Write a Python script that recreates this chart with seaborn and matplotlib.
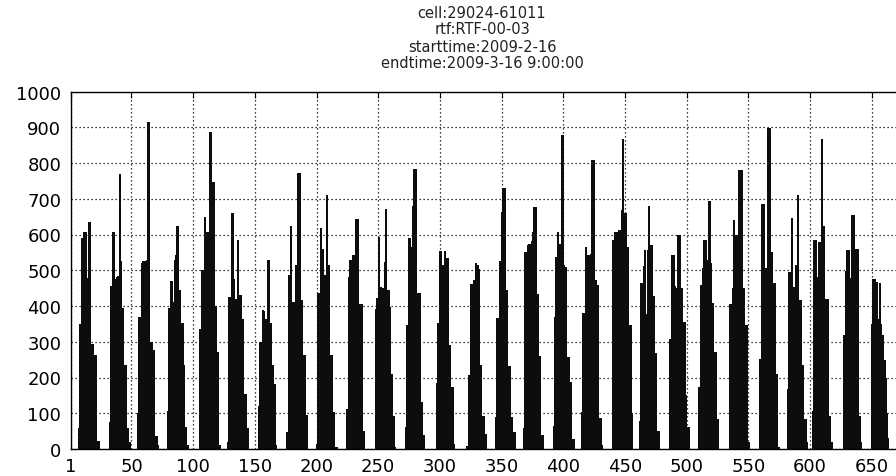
import numpy as np
import pandas as pd
import matplotlib
matplotlib.use("Agg")
import matplotlib.pyplot as plt
import seaborn as sns

# ---------------- data ----------------
title_lines = ["cell:29024-61011", "rtf:RTF-00-03", "starttime:2009-2-16",
               "endtime:2009-3-16 9:00:00"]
n_hours = 681

# hour index where each day's traffic begins
day_start = [7, 32, 55, 79, 105, 128, 153, 176, 200, 224, 248, 272, 297, 322,
             345, 368, 392, 415, 440, 462, 486, 510, 535, 559, 582, 602, 627, 650]

d01 = [58, 350, 350, 589, 607, 607, 607, 477, 634, 634, 294, 294, 264, 264, 264, 23, 23]
d02 = [75, 457, 457, 607, 470, 475, 480, 485, 770, 525, 395, 395, 235, 235, 60, 60, 20]
d03 = [102, 369, 369, 520, 526, 526, 526, 530, 916, 916, 300, 300, 278, 278, 35, 35, 10]
d04 = [105, 394, 394, 469, 411, 411, 528, 542, 623, 446, 446, 353, 353, 234, 61, 61, 10]
d05 = [335, 335, 500, 500, 648, 607, 607, 607, 888, 888, 748, 748, 400, 400, 271, 271, 10]
d06 = [20, 425, 425, 660, 660, 475, 420, 420, 585, 430, 430, 365, 365, 155, 155, 60, 60]
d07 = [120, 299, 299, 388, 386, 364, 364, 528, 528, 353, 353, 235, 182, 182, 10]
d08 = [47, 486, 486, 623, 411, 411, 411, 514, 514, 771, 771, 416, 416, 264, 264, 95, 95]
d09 = [14, 435, 435, 617, 432, 560, 486, 486, 710, 514, 514, 264, 264, 103, 103, 5, 5]
d10 = [112, 112, 481, 528, 528, 544, 542, 542, 643, 643, 405, 405, 405, 49, 49]
d11 = [392, 421, 593, 453, 453, 449, 449, 523, 671, 446, 446, 397, 210, 210, 93, 5]
d12 = [61, 348, 348, 589, 565, 565, 680, 783, 783, 436, 436, 436, 131, 131, 40, 40]
d13 = [185, 353, 353, 554, 516, 516, 416, 554, 533, 533, 290, 290, 173, 173, 14]
d14 = [9, 207, 207, 461, 461, 472, 472, 519, 514, 503, 234, 234, 93, 93, 42, 42]
d15 = [89, 367, 367, 526, 526, 663, 729, 729, 444, 444, 232, 232, 89, 89, 47, 47]
d16 = [60, 551, 551, 572, 573, 573, 581, 607, 676, 676, 433, 433, 260, 260, 39, 39]
d17 = [65, 369, 537, 607, 523, 573, 573, 878, 514, 509, 509, 257, 257, 187, 187, 28, 28]
d18 = [103, 381, 381, 564, 542, 542, 458, 545, 808, 808, 472, 472, 458, 458, 86, 86, 10]
d19 = [584, 584, 607, 607, 607, 612, 612, 668, 866, 659, 659, 565, 565, 347, 347, 98]
d20 = [77, 464, 464, 512, 558, 378, 558, 680, 572, 572, 428, 428, 269, 269, 51, 51]
d21 = [308, 308, 542, 542, 456, 449, 449, 600, 600, 449, 449, 355, 355, 150, 61, 61]
d22 = [173, 460, 460, 505, 584, 584, 528, 519, 693, 519, 408, 408, 271, 271, 84, 84]
d23 = [406, 406, 450, 640, 598, 598, 598, 780, 780, 780, 449, 449, 346, 346, 19, 19]
d24 = [252, 252, 684, 684, 505, 505, 472, 897, 897, 551, 551, 465, 465, 210, 210, 5]
d25 = [168, 495, 495, 646, 453, 453, 516, 516, 710, 416, 416, 234, 234, 84, 84, 19]
d26 = [107, 584, 584, 481, 481, 579, 579, 866, 624, 624, 420, 420, 420, 93, 93, 20]
d27 = [318, 318, 499, 556, 556, 478, 478, 654, 654, 560, 560, 560, 93, 93, 19]
d28 = [350, 476, 476, 425, 467, 364, 465, 350, 318, 318, 250, 200, 100, 30]
day_traffic = [d01, d02, d03, d04, d05, d06, d07, d08, d09, d10, d11, d12, d13, d14,
               d15, d16, d17, d18, d19, d20, d21, d22, d23, d24, d25, d26, d27, d28]

x_ticks = [1, 50, 100, 150, 200, 250, 300, 350, 400, 450, 500, 550, 600, 650]
y_ticks = [0, 100, 200, 300, 400, 500, 600, 700, 800, 900, 1000]

# ---------------- build table ----------------
hours = np.arange(1, n_hours + 1)
traffic = np.zeros(n_hours)
for s, seg in zip(day_start, day_traffic):
    traffic[s - 1:s - 1 + len(seg)] = seg
df = pd.DataFrame({"hour": hours, "traffic": traffic})

# ---------------- plot ----------------
sns.set_style("white")
plt.rcParams["font.family"] = ["DejaVu Sans"]

W, H = 896, 477
fig = plt.figure(figsize=(W / 100, H / 100), dpi=100)
left, right, top, bottom = 71, 910, 92.5, 450
ax = fig.add_axes([left / W, (H - bottom) / H, (right - left) / W, (bottom - top) / H])

sns.barplot(data=df, x="hour", y="traffic", native_scale=True, color="#0d0d0d",
            saturation=1, width=1.0, edgecolor="#0d0d0d", linewidth=0.5,
            errorbar=None, ax=ax)
for p in ax.patches:
    p.set_antialiased(False)

ax.set_xlim(1, n_hours)
ax.set_ylim(0, 1000)
ax.set_xticks(x_ticks)
ax.set_xticklabels([str(t) for t in x_ticks])
ax.set_yticks(y_ticks)
ax.set_yticklabels([str(t) for t in y_ticks])
ax.set_xlabel("")
ax.set_ylabel("")

ax.set_axisbelow(True)
ax.grid(True, linestyle=(0, (1, 2.2)), color="black", linewidth=0.9)
for sp in ax.spines.values():
    sp.set_color("black")
    sp.set_linewidth(1.0)
    sp.set_visible(True)
ax.tick_params(direction="in", top=True, right=True, length=4, width=0.8,
               labelsize=13, colors="black")
ax.tick_params(axis="x", pad=6)
ax.tick_params(axis="y", pad=7)

title_y = [13, 30, 47, 64]
for line, yy in zip(title_lines, title_y):
    fig.text(482 / W, 1 - yy / H, line, ha="center", va="center",
             fontsize=10.5, color="#222222")

fig.savefig("out.png", dpi=100)
